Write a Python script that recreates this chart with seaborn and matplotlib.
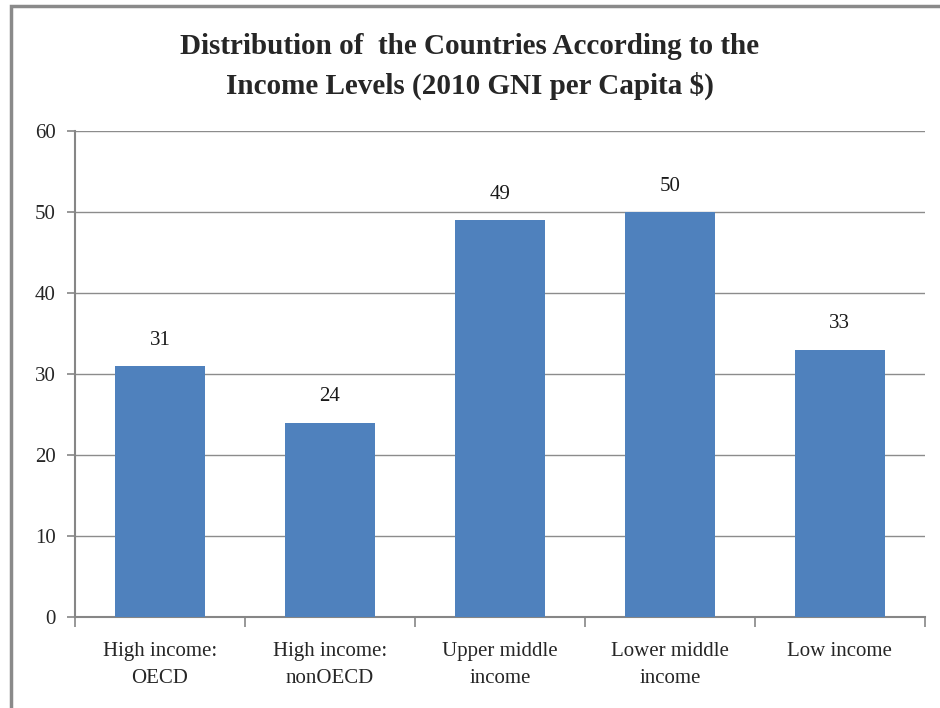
import matplotlib
matplotlib.use('Agg')
import matplotlib.pyplot as plt
import seaborn as sns
import pandas as pd
from matplotlib.patches import Rectangle
from matplotlib.ticker import FixedLocator

# data
categories = ['High income:\nOECD', 'High income:\nnonOECD', 'Upper middle\nincome',
              'Lower middle\nincome', 'Low income']
counts = [31, 24, 49, 50, 33]

df = pd.DataFrame({'category': categories, 'count': counts})

sns.set_style('white')
plt.rcParams['font.family'] = ['Liberation Serif', 'DejaVu Serif']

fig = plt.figure(figsize=(9.4, 7.08), dpi=100)
ax = fig.add_axes([0.0798, 0.1285, 0.904, 0.6865])

sns.barplot(x='category', y='count', data=df, color='#4F81BD', saturation=1,
            width=0.53, ax=ax, zorder=3, linewidth=0)

for i, v in enumerate(counts):
    ax.text(i, v + 2, str(v), ha='center', va='bottom', fontsize=15, color='#1a1a1a')

ax.set_ylim(0, 60)
ax.set_xlim(-0.5, 4.5)
ax.set_yticks(range(0, 61, 10))
ax.yaxis.grid(True, color='#8c8c8c', linewidth=1, zorder=0)
ax.set_xlabel('')
ax.set_ylabel('')

grey = '#868686'
for s in ['top', 'right']:
    ax.spines[s].set_visible(False)
for s in ['left', 'bottom']:
    ax.spines[s].set_color(grey)
    ax.spines[s].set_linewidth(1.5)

ax.tick_params(axis='y', which='major', length=6, width=1.2, color=grey,
               labelsize=15, pad=8, left=True)
ax.tick_params(axis='x', which='major', length=0, labelsize=15, pad=18)
ax.xaxis.set_minor_locator(FixedLocator([-0.5, 0.5, 1.5, 2.5, 3.5, 4.5]))
ax.tick_params(axis='x', which='minor', length=7, width=1.2, color=grey, bottom=True)
for lab in ax.get_xticklabels():
    lab.set_linespacing(1.6)

fig.suptitle('Distribution of  the Countries According to the\nIncome Levels (2010 GNI per Capita $)',
             y=0.906, va='center', fontsize=21, fontweight='bold', linespacing=1.5)

# chart area border (cropped at right and bottom)
fig.patches.append(Rectangle((0.012, -0.1), 1.2, 1.092, transform=fig.transFigure,
                             fill=False, edgecolor='#8a8a8a', linewidth=2.5))

fig.savefig('out.png', dpi=100)
